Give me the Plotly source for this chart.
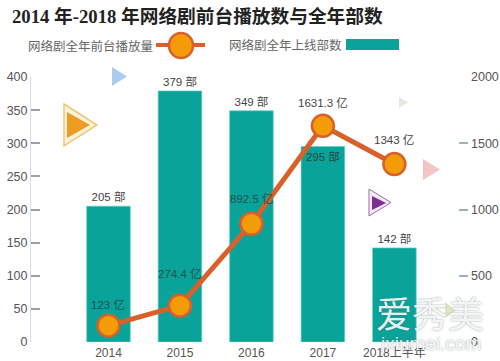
import plotly.graph_objects as go

W, H = 500, 361
ML, MR, MT, MB = 31, 32, 77, 19

years = ["2014", "2015", "2016", "2017", "2018上半年"]
counts = [205, 379, 349, 295, 142]
plays = [123, 274.4, 892.5, 1631.3, 1343]
count_labels = ["205 部", "379 部", "349 部", "295 部", "142 部"]
play_labels = ["123 亿", "274.4 亿", "892.5 亿", "1631.3 亿", "1343 亿"]
left_ticks = [0, 50, 100, 150, 200, 250, 300, 350, 400]
right_ticks = [0, 500, 1000, 1500, 2000]
label_shift = [21, 32, 25, 23, 24]
count_pos = ["outside", "outside", "outside", "inside", "outside"]

FONT = "Liberation Sans, Noto Sans CJK SC, sans-serif"
TEAL = "#0aa39a"
ORANGE = "#d9602a"
AMBER = "#f39c0a"
WM_SHADOW = "0 0 2px rgba(90,110,110,0.75)"

def X(v):
    return (v - ML) / (W - ML - MR)
def Y(v):
    return (H - MB - v) / (H - MT - MB)

def paper_shape(kind, x0, y0, x1, y1, **kw):
    return dict(type=kind, xref="paper", yref="paper", x0=X(x0), x1=X(x1), y0=Y(y0), y1=Y(y1), **kw)

def tri(x0, y0, x1, y1, fill, line=None, op=1, lw=1):
    path = "M %f %f L %f %f L %f %f Z" % (X(x0), Y(y0), X(x1), Y((y0 + y1) / 2), X(x0), Y(y1))
    return dict(type="path", xref="paper", yref="paper", path=path, fillcolor=fill,
                line=dict(color=line or fill, width=lw if line else 0), opacity=op, layer="below")

def note(x, y, text, size, color, anchor="center", family=FONT, shadow=None):
    font = dict(size=size, color=color, family=family)
    if shadow:
        font["shadow"] = shadow
    return dict(x=X(x), y=Y(y), xref="paper", yref="paper", xanchor=anchor, yanchor="middle",
                showarrow=False, text=text, font=font)

fig = go.Figure()
fig.add_bar(x=list(range(5)), y=counts, text=count_labels, textposition=count_pos, cliponaxis=False,
            insidetextanchor="end", textangle=0,
            outsidetextfont=dict(size=11.5, color="#444", family=FONT),
            insidetextfont=dict(size=11.5, color="#24484a", family=FONT),
            marker=dict(color=TEAL, line=dict(color="#5ed0c8", width=0.7)), width=0.61, showlegend=False)
fig.add_scatter(x=list(range(5)), y=plays, yaxis="y2", mode="lines+markers", showlegend=False, cliponaxis=False,
                line=dict(color=ORANGE, width=5),
                marker=dict(size=22, color=AMBER, line=dict(color=ORANGE, width=2.5)))

ann = []
for i, (v, t, s) in enumerate(zip(plays, play_labels, label_shift)):
    ann.append(dict(x=i, y=v, xref="x", yref="y2", text=t, showarrow=False, yshift=s,
                    font=dict(size=11.5, color="#234f52" if i < 3 else "#444", family=FONT)))
ann += [
    note(10, 16, "<b>2014 年-2018 年网络剧前台播放数与全年部数</b>", 18.7, "#222", "left",
         "Liberation Serif, Noto Sans CJK SC, serif"),
    note(26, 46, "网络剧全年前台播放量", 12.5, "#666", "left"),
    note(227, 45, "网络剧全年上线部数", 12.5, "#666", "left"),
    note(430, 315, "爱秀美", 36, "rgba(255,255,255,0.9)", shadow=WM_SHADOW),
    note(430, 343, "jxiumei.com", 19, "rgba(255,255,255,0.9)", shadow=WM_SHADOW),
]

shapes = [
    paper_shape("line", 156, 45, 205, 45, line=dict(color=ORANGE, width=4), layer="above"),
    paper_shape("circle", 169, 33, 193, 58, fillcolor=AMBER, line=dict(color=ORANGE, width=2.5), layer="above"),
    paper_shape("rect", 346, 39, 399, 50, fillcolor=TEAL, line=dict(width=0), layer="above"),
    tri(64, 104, 97, 146, "#fdf3dc", "#f0c870", 1, 1.5),
    tri(67, 112, 90, 138, "#ec9c20"),
    tri(112, 67, 127, 86, "#a8cdee"),
    tri(423, 159, 440, 180, "#f3c6c4"),
    tri(399, 97, 408, 108, "#ece6d8"),
    tri(369, 189, 391, 216, "#f4eaf6", "#a06ab0", 1, 1),
    tri(372, 196, 386, 210, "#7d2e92"),
    tri(445, 302, 456, 318, "#dbe7c5"),
]

fig.update_layout(
    width=W, height=H, margin=dict(l=ML, r=MR, t=MT, b=MB, autoexpand=False),
    paper_bgcolor="white", plot_bgcolor="white", barmode="overlay",
    font=dict(family=FONT, size=11.5, color="#555"),
    xaxis=dict(range=[-1.084, 5.03], tickvals=list(range(5)), ticktext=years, ticks="", showgrid=False,
               zeroline=False, showline=False, tickfont=dict(size=12, color="#555"), ticklabelstandoff=2),
    yaxis=dict(range=[0, 400], tickvals=left_ticks, ticks="inside", ticklen=9, tickcolor="#9aa0b0", tickwidth=1.5,
               showgrid=False, zeroline=False, showline=True, linecolor="#d8dcee", linewidth=1,
               tickfont=dict(size=12.5, color="#555")),
    yaxis2=dict(range=[0, 2000], overlaying="y", side="right", tickvals=right_ticks, ticks="inside", ticklen=9,
                tickcolor="#9fb0bf", tickwidth=1.5, showgrid=False, zeroline=False, showline=False,
                ticklabelstandoff=2, tickfont=dict(size=12.5, color="#555")),
    annotations=ann, shapes=shapes,
)
fig.write_html("out.html", config={"displayModeBar": False},
               post_script="document.body.style.margin='0';document.documentElement.style.overflow='hidden';")
